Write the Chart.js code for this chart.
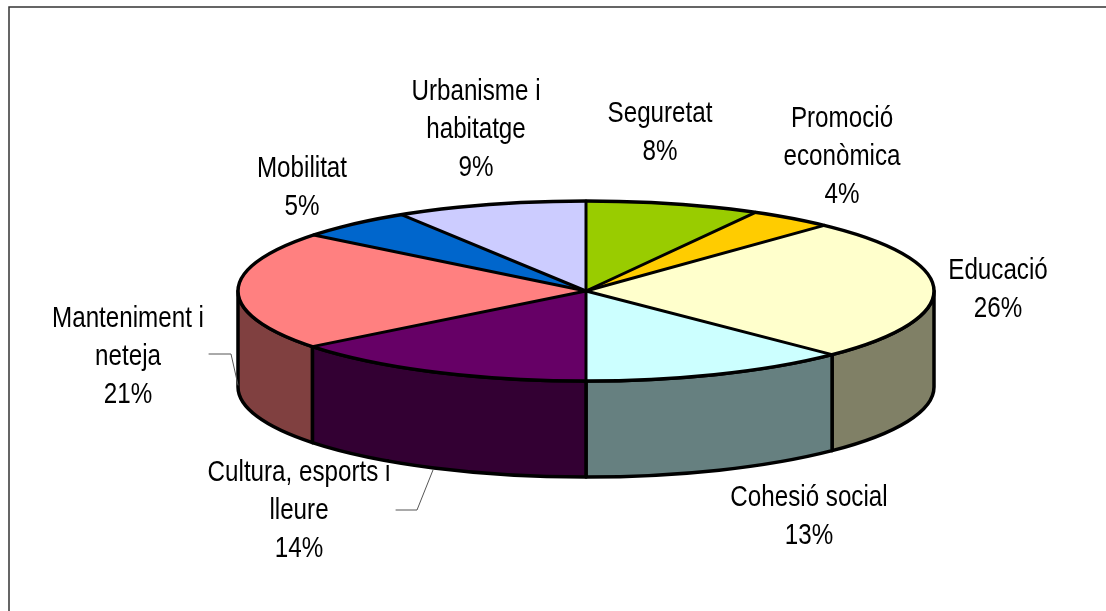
<!DOCTYPE html>
<html>
<head>
<meta charset="utf-8">
<script src="https://cdn.jsdelivr.net/npm/chart.js@4"></script>
<style>
html, body { margin: 0; padding: 0; background: #fff; overflow: hidden; }
canvas { display: block; }
</style>
</head>
<body>
<canvas id="piechart" width="1106" height="611"></canvas>
<script>
var categories = [
    ['Seguretat'],
    ['Promoció', 'econòmica'],
    ['Educació'],
    ['Cohesió social'],
    ['Cultura, esports i', 'lleure'],
    ['Manteniment i', 'neteja'],
    ['Mobilitat'],
    ['Urbanisme i', 'habitatge']
];
var shares = [8.1, 3.9, 25.5, 12.5, 14.4, 21.3, 5.4, 8.9];
var topColors = ['#99CC00', '#FFCC00', '#FFFFCC', '#CCFFFF', '#660066', '#FF8080', '#0066CC', '#CCCCFF'];
var wallColors = ['#667F00', '#806600', '#808066', '#668080', '#330033', '#804040', '#003366', '#666680'];

// label placement, centre x and y of first line, same order as categories
var labelAnchors = [[660, 114], [842, 119], [998, 271], [809, 498], [299, 473], [128, 319], [302, 169], [476, 92]];
var leaderLines = [
    [[209, 354], [231, 354], [238, 385]],
    [[396, 510], [417, 510], [433, 470]]
];

var SQUASH = 90 / 348;
var DEPTH = 96;

function frontPart(arc) {
    var a1 = Math.max(arc.startAngle, 0);
    var a2 = Math.min(arc.endAngle, Math.PI);
    return a2 > a1 ? [a1, a2] : null;
}

var pie3d = {
    id: 'pie3d',
    beforeDraw: function(chart) {
        var ctx = chart.ctx;
        ctx.save();
        ctx.strokeStyle = '#333';
        ctx.lineWidth = 1.5;
        ctx.strokeRect(9, 7, 1300, 800);
        ctx.restore();
    },
    beforeDatasetsDraw: function(chart) {
        var ctx = chart.ctx;
        var arcs = chart.getDatasetMeta(0).data;
        var cx = arcs[0].x, cy = arcs[0].y, r = arcs[0].outerRadius;
        var ry = r * SQUASH;

        // side walls, only the front half can be seen
        ctx.save();
        ctx.lineWidth = 3.5;
        ctx.strokeStyle = '#000';
        ctx.lineJoin = 'round';
        arcs.forEach(function(arc, i) {
            var part = frontPart(arc);
            if (!part) return;
            ctx.beginPath();
            ctx.ellipse(cx, cy, r, ry, 0, part[0], part[1]);
            ctx.ellipse(cx, cy + DEPTH, r, ry, 0, part[1], part[0], true);
            ctx.closePath();
            ctx.fillStyle = wallColors[i];
            ctx.fill();
            ctx.stroke();
        });
        ctx.restore();

        // flatten the pie for the library's own arcs
        ctx.save();
        ctx.translate(cx, cy);
        ctx.scale(1, SQUASH);
        ctx.translate(-cx, -cy);
    },
    afterDatasetsDraw: function(chart) {
        var ctx = chart.ctx;
        ctx.restore();

        var arcs = chart.getDatasetMeta(0).data;
        var cx = arcs[0].x, cy = arcs[0].y, r = arcs[0].outerRadius;
        var ry = r * SQUASH;

        ctx.save();
        ctx.strokeStyle = '#000';
        ctx.lineWidth = 3.5;
        ctx.beginPath();
        ctx.ellipse(cx, cy, r, ry, 0, 0, Math.PI * 2);
        ctx.stroke();
        ctx.lineWidth = 3;
        ctx.lineCap = 'round';
        arcs.forEach(function(arc) {
            ctx.beginPath();
            ctx.moveTo(cx, cy);
            ctx.lineTo(cx + r * Math.cos(arc.startAngle), cy + ry * Math.sin(arc.startAngle));
            ctx.stroke();
        });

        // leader lines
        ctx.strokeStyle = '#555';
        ctx.lineWidth = 1;
        leaderLines.forEach(function(line) {
            ctx.beginPath();
            line.forEach(function(p, k) {
                if (k === 0) ctx.moveTo(p[0], p[1]); else ctx.lineTo(p[0], p[1]);
            });
            ctx.stroke();
        });

        // labels, narrow look of the original comes from squeezing Liberation Sans
        ctx.fillStyle = '#000';
        ctx.font = '29.5px "Liberation Sans", Arial, sans-serif';
        ctx.textAlign = 'center';
        ctx.textBaseline = 'middle';
        chart.data.labels.forEach(function(lines, i) {
            var rows = lines.concat(Math.round(shares[i]) + '%');
            rows.forEach(function(txt, k) {
                ctx.save();
                ctx.translate(labelAnchors[i][0], labelAnchors[i][1] + k * 38);
                ctx.scale(0.82, 1);
                ctx.fillText(txt, 0, 0);
                ctx.restore();
            });
        });
        ctx.restore();
    }
};

var chart1 = document.getElementById('piechart');
var myChart1 = new Chart(chart1, {
    type: 'pie',
    data: {
        labels: categories,
        datasets: [{
            data: shares,
            backgroundColor: topColors,
            borderWidth: 0,
            clip: false
        }]
    },
    options: {
        responsive: false,
        animation: false,
        radius: 348,
        layout: { padding: { left: 66, bottom: 29 } },
        plugins: {
            legend: { display: false },
            title: { display: false },
            tooltip: { enabled: false }
        }
    },
    plugins: [pie3d]
});
</script>
</body>
</html>
